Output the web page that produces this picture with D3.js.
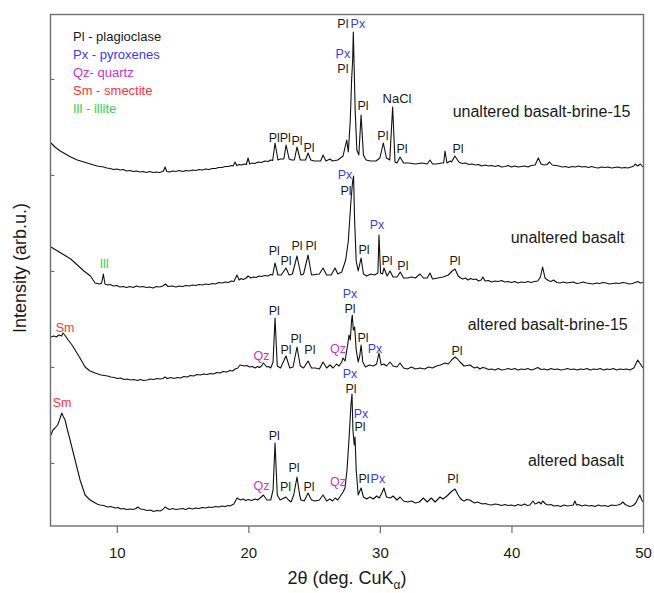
<!DOCTYPE html>
<html>
<head>
<meta charset="utf-8">
<script src="https://cdn.jsdelivr.net/npm/d3@7"></script>
<style>
  html, body { margin: 0; padding: 0; background: #fff; }
  svg { display: block; font-family: Arial, "Liberation Sans", sans-serif; }
</style>
</head>
<body>
<svg id="chart" width="654" height="593"></svg>
<script>
// ---------------- DATA ----------------
const seriesNames = ["unaltered basalt-brine-15", "unaltered basalt", "altered basalt-brine-15", "altered basalt"];
const seriesOffsets = [350, 245, 150, 0];

const unalteredBrine = [
  [5.0,33],[5.3,29],[5.7,25],[6.1,22],[6.5,19],[7.0,16],[7.5,14],[8.0,12],[8.5,10],
  [9.0,9],[9.25,8],[9.5,7.5],[9.75,6.5],[10.0,7],[10.25,6],[10.5,6.5],[10.75,5],[11.0,5.5],[11.25,4.5],[11.5,5],[11.75,4],[12.0,4.5],[12.25,3.5],[12.5,4.5],[12.75,3.5],[13.0,4],[13.25,3.5],[13.5,4.5],[13.55,5],[13.67,9],[13.8,4.5],[14.0,4],[14.25,5],[14.5,4.5],[14.75,5.5],[15.0,4.5],[15.25,5.5],[15.5,5],[15.75,6],[16.0,5.5],[16.25,6.5],[16.5,6],[16.75,7],[17.0,6.5],[17.25,7.5],[17.5,7.5],[17.75,8.5],[18.0,8.5],[18.25,9.5],[18.5,9.5],[18.7,10.5],[18.85,10],[18.99,14],[19.12,10.5],[19.3,11.5],[19.5,11],[19.7,12],[19.85,11.5],[19.98,18],[20.1,12],[20.3,13],[20.5,12.5],[20.75,14],[21.0,13.5],[21.25,15],[21.5,14.5],[21.7,16],[21.85,15.5],
  [22.03,33],[22.25,16],[22.45,17],[22.7,17],[22.87,31],[23.1,17],[23.3,16],[23.5,16],[23.7,29],[23.95,16],[24.2,16],[24.35,16],[24.54,23],[24.75,16],[25.0,15],[25.3,15],[25.5,15],[25.68,21],[25.9,15],[26.2,17],[26.4,15],[26.8,16],[27.2,20],[27.48,36],[27.6,24],[27.75,56],[27.85,96],[27.93,116],[27.98,144],[28.05,106],[28.12,66],[28.25,26],[28.4,21],[28.57,61],[28.75,21],[28.95,16],[29.3,15],[29.7,15],[30.0,18],[30.26,33],[30.5,18],[30.75,16],[30.97,69],[31.15,14],[31.3,13],[31.53,19],[31.8,13],[32.2,13],[32.7,12],[33.2,13],[33.6,12],[33.81,16],[34.0,12],[34.3,12],[34.7,13],[34.85,13],[34.95,25],[35.1,13],[35.35,15],[35.45,14],[35.7,20],
  [36.0,14],[36.25,12.5],[36.5,13],[36.75,11.5],[37.0,12],[37.25,11],[37.5,11.5],[37.75,10],[38.0,11],[38.25,10],[38.5,10.5],[38.75,9.5],[39.0,10.5],[39.25,9],[39.5,9.5],[39.75,10.5],[40.0,9],[40.25,10],[40.5,9],[40.75,9.5],[41.0,10],[41.25,9],[41.5,10.5],[41.8,11],[42.04,18],[42.25,12],[42.5,11],[42.7,11.5],[42.9,14],[43.1,11],[43.35,10.5],[43.6,10],[43.85,9],[44.1,9.5],[44.35,8.5],[44.6,9.5],[44.85,9],[45.1,10],[45.35,9],[45.6,9.5],[45.85,8.5],[46.1,9.5],[46.35,8.5],[46.6,8],[46.85,9],[47.1,8.5],[47.35,9],[47.6,8],[47.85,8.5],[48.1,9],[48.35,8],[48.6,8.5],[48.85,8],[49.1,9],[49.3,10],[49.4,12],[49.6,10],[49.8,12],[50.0,9]
];

const unaltered = [
  [5.0,34],[5.5,30],[6.0,26],[6.5,22],[7.0,16],[7.5,10],[8.0,5],[8.35,-2],[8.7,-3],[8.85,-2],[8.98,7],
  [9.1,-3],[9.3,-4],[9.5,-3.5],[9.75,-5],[10.0,-4.5],[10.25,-6],[10.5,-5.5],[10.75,-6.5],[11.0,-5.5],[11.25,-6.5],[11.5,-5],[11.75,-6],[12.0,-5.5],[12.25,-6.5],[12.5,-6],[12.75,-7],[13.0,-5.5],[13.25,-6],[13.5,-5],[13.7,-3],[13.9,-5.5],[14.2,-5],[14.5,-6],[14.75,-5],[15.0,-5.5],[15.25,-4.5],[15.5,-5],[15.75,-4],[16.0,-4.5],[16.25,-3.5],[16.5,-4],[16.75,-3],[17.0,-3.5],[17.25,-2.5],[17.5,-3],[17.75,-1.5],[18.0,-2],[18.25,-1],[18.5,-1.5],[18.7,0],[18.9,-0.5],[19.14,6],[19.3,1],[19.45,2.5],[19.6,1.5],[19.8,2.5],[19.98,5],[20.2,3],[20.4,4],[20.6,3.5],[20.8,5],[21.0,4.5],[21.25,5.5],[21.5,5],[21.7,6.5],[21.85,6],
  [22.03,18],[22.25,6],[22.5,6],[22.86,13],[23.1,6],[23.35,7],[23.7,25],[24.0,6],[24.2,7],[24.54,26],[24.8,6],[25.1,6.5],[25.4,7],[25.68,13],[25.95,6],[26.3,6],[26.59,13],[26.8,7],[27.1,9],[27.4,21],[27.6,40],[27.8,80],[27.93,100],[28.0,105],[28.08,60],[28.2,20],[28.35,10],[28.57,23],[28.75,7],[29.0,5],[29.3,7],[29.6,6],[29.85,8],[29.93,46],[30.05,8],[30.2,7],[30.31,13],[30.55,5],[30.77,10],[31.0,4],[31.3,4],[31.55,9],[31.8,3],[32.1,3],[32.4,4],[32.7,3],[33.05,7],[33.3,3],[33.6,3],[33.81,8],[34.0,2],[34.4,3],[34.8,4],[35.2,6],[35.5,10],[35.71,12],
  [35.95,5],[36.15,3],[36.3,2],[36.5,3],[36.7,1],[36.9,2.5],[37.1,1.5],[37.3,2],[37.5,0],[37.7,1],[37.83,4],[38.0,0],[38.25,0.5],[38.5,-1],[38.75,0],[39.0,-0.5],[39.25,0.5],[39.5,-1],[39.75,-0.5],[40.0,-1.5],[40.25,-0.5],[40.5,-2],[40.75,-1],[41.0,-1.5],[41.25,-0.5],[41.5,-1.5],[41.75,-0.5],[42.0,0],[42.2,4],[42.37,14],[42.55,3],[42.8,0.5],[43.0,-0.5],[43.2,1],[43.45,-1.5],[43.7,-2],[43.95,-1],[44.2,-2],[44.45,-1.5],[44.7,-1],[44.95,-2.5],[45.2,-2],[45.45,-1],[45.7,-2],[45.95,-2.5],[46.2,-3],[46.45,-2],[46.7,-2.5],[46.95,-1.5],[47.2,-2],[47.45,-3],[47.7,-2.5],[47.95,-2],[48.2,-2.5],[48.45,-1.5],[48.7,-2],[48.95,-3],[49.2,-2.5],[49.4,-1.5],[49.6,-0.5],[49.8,-2],[50.0,-1.5]
];

const alteredBrine = [
  [5.0,39],[5.2,40],[5.4,39],[5.6,41],[5.8,40],[5.92,43],[6.1,40],[6.3,36],[6.6,31],[6.83,26],[7.2,18],[7.59,9],[7.97,5],[8.35,3],
  [8.8,1],[9.05,0.5],[9.3,0],[9.55,-1],[9.8,-1.5],[10.05,-2.5],[10.3,-2],[10.55,-3.5],[10.8,-3],[11.05,-4],[11.3,-3.5],[11.55,-4.5],[11.8,-3.5],[12.05,-4.5],[12.3,-4],[12.55,-3],[12.8,-3.5],[13.05,-2.5],[13.3,-3],[13.5,-2.5],[13.67,-1],[13.85,-2.5],[14.1,-1.5],[14.35,-2.5],[14.6,-1.5],[14.85,-2],[15.1,-0.5],[15.35,-1],[15.6,0.5],[15.85,0],[16.1,1.5],[16.35,1],[16.6,2],[16.85,1.5],[17.1,2.5],[17.35,2],[17.6,3.5],[17.85,3],[18.1,4.5],[18.35,4],[18.6,5.5],[18.8,5],[19.0,7],[19.2,8],[19.37,11],[19.55,10.5],[19.7,10],[19.9,10.5],[20.1,9],[20.3,9.5],[20.51,8],[20.7,9.5],[20.85,8.5],[21.0,10],[21.15,13],[21.4,9],[21.55,9.5],[21.7,8],
  [21.88,14],[22.03,58],[22.2,10],[22.45,8],[22.86,20],[23.15,8],[23.4,9],[23.7,29],[23.95,10],[24.2,8],[24.54,15],[24.8,8],[25.1,8],[25.4,7],[25.68,14],[25.95,8],[26.2,11],[26.45,8],[26.7,12],[26.9,10],[27.1,14],[27.2,18],[27.35,15],[27.55,31],[27.65,41],[27.75,36],[27.85,56],[27.9,61],[27.98,46],[28.08,49],[28.2,26],[28.35,14],[28.48,21],[28.57,31],[28.7,14],[28.9,9],[29.2,11],[29.5,10],[29.75,12],[29.93,23],[30.1,11],[30.3,12],[30.5,10],[30.77,14],[31.0,10],[31.3,9],[31.53,13],[31.8,8],[32.1,7],[32.4,9],[32.7,7],[33.05,8],[33.4,7],[33.7,9],[34.0,8],[34.3,10],[34.6,11],[34.95,13],[35.2,12],[35.45,16],[35.71,19],[35.9,17],[36.09,14],[36.4,10],
  [36.85,11],[37.0,9.5],[37.2,8],[37.4,9],[37.6,7],[37.8,8.5],[38.0,8],[38.25,6.5],[38.5,7],[38.75,6],[39.0,7.5],[39.25,6],[39.5,6.5],[39.75,7.5],[40.0,6.5],[40.25,7.5],[40.5,6],[40.75,7],[41.0,6.5],[41.25,7.5],[41.5,6],[41.75,7],[42.0,8.5],[42.25,6.5],[42.5,7],[42.75,6],[43.0,7.5],[43.25,6.5],[43.5,7],[43.75,6],[44.0,6.5],[44.25,7.5],[44.5,6.5],[44.75,7],[45.0,6],[45.25,7],[45.5,6.5],[45.75,7.5],[46.0,6],[46.25,7],[46.5,6.5],[46.75,7.5],[47.0,6],[47.25,7],[47.5,6.5],[47.75,7.5],[48.0,6],[48.25,7],[48.5,6.5],[48.75,7],[49.0,6],[49.3,8],[49.6,16],[49.8,12],[50.0,8]
];

const altered = [
  [5.0,91],[5.15,96],[5.31,98],[5.5,101],[5.65,106],[5.82,113],[5.95,109],[6.07,106],[6.25,96],[6.45,86],[6.83,66],[7.21,46],[7.59,31],[7.97,26],
  [8.5,22],[8.73,21],[9.0,20.5],[9.3,19],[9.55,19.5],[9.87,18],[10.1,18.5],[10.3,17],[10.5,17.5],[10.75,16.5],[11.0,17],[11.25,16.5],[11.45,17.5],[11.6,19],[11.8,17],[12.05,16.5],[12.3,15.5],[12.55,16],[12.8,14.5],[13.05,15.5],[13.3,15],[13.5,16.5],[13.67,19],[13.85,17.5],[14.0,16.5],[14.25,17.5],[14.5,16.5],[14.75,17],[15.0,17.5],[15.25,16.5],[15.5,18],[15.75,17],[16.0,18],[16.25,17.5],[16.5,18.5],[16.75,18],[17.0,19],[17.25,18.5],[17.5,19.5],[17.75,19],[18.0,20],[18.25,19.5],[18.45,20.5],[18.6,20],[18.9,22],[19.14,28],[19.4,26],[19.6,27],[19.8,25.5],[20.0,26.5],[20.25,25.5],[20.5,27],[20.7,26],[20.9,28],
  [21.15,31],[21.4,26],[21.7,26],[21.88,36],[22.03,83],[22.2,31],[22.41,26],[22.86,29],[23.05,26],[23.25,24],[23.45,31],[23.7,49],[23.9,31],[24.0,26],[24.25,25],[24.54,33],[24.8,26],[25.07,25],[25.4,26],[25.68,31],[25.95,25],[26.2,27],[26.4,25],[26.6,28],[26.8,26],[27.0,30],[27.2,34],[27.35,38],[27.5,56],[27.65,86],[27.8,121],[27.88,132],[27.95,96],[28.05,81],[28.11,89],[28.2,56],[28.35,31],[28.57,38],[28.75,29],[29.0,27],[29.25,29],[29.5,27],[29.75,30],[29.95,28],[30.15,33],[30.31,38],[30.5,29],[30.8,28],[31.0,30],[31.3,26],[31.53,29],[31.8,25],[32.1,24],[32.4,25],[32.7,23],[33.0,24],[33.3,28],[33.6,24],[33.9,28],[34.2,24],[34.57,29],[34.8,27],[35.1,30],[35.4,34],[35.71,37],[35.95,31],
  [36.09,28],[36.25,26],[36.4,25],[36.6,26.5],[36.85,26],[37.0,24.5],[37.2,23],[37.4,24],[37.6,23],[37.8,22],[38.0,22.5],[38.25,21.5],[38.5,21],[38.75,22],[39.0,21.5],[39.25,20.5],[39.5,21.5],[39.75,20.5],[40.0,21],[40.25,20],[40.5,21.5],[40.75,20.5],[41.0,22],[41.2,20.5],[41.4,21],[41.63,25],[41.8,22],[41.9,22.5],[42.1,24],[42.25,22],[42.37,25],[42.6,22],[42.8,21],[43.0,21.5],[43.25,20],[43.5,20.5],[43.75,19.5],[44.0,21],[44.25,20],[44.5,20.5],[44.7,21],[44.82,25],[44.95,21],[45.1,21.5],[45.35,20],[45.6,21],[45.85,20],[46.1,20.5],[46.35,19.5],[46.6,21],[46.85,20],[47.1,20.5],[47.35,19.5],[47.6,21],[47.85,20.5],[48.1,21],[48.3,22],[48.47,24],[48.65,21.5],[48.8,20.5],[49.0,19.5],[49.15,20],[49.3,21],[49.45,23],[49.6,27],[49.76,31],[49.9,26],[50.0,24]
];

const seriesData = [unalteredBrine, unaltered, alteredBrine, altered];

const xTickValues = [10, 20, 30, 40, 50];
const yTickValues = [63, 159, 255, 351, 447];

const phaseColors = { Pl: "#1a1a1a", Px: "#3a3aff", Qz: "#cc33cc", Sm: "#ff3333", Ill: "#3fcc3f", NaCl: "#1a1a1a" };
const legendItems = [
  ["Pl", "Pl - plagioclase"],
  ["Px", "Px - pyroxenes"],
  ["Qz", "Qz- quartz"],
  ["Sm", "Sm - smectite"],
  ["Ill", "Ill - illite"]
];

// peak annotations: [label, phase, 2θ, intensity level]
const peakLabels = [
  ["Pl","Pl",21.97,384],["Pl","Pl",22.81,384],["Pl","Pl",23.7,381],["Pl","Pl",24.61,374],
  ["Pl","Pl",27.19,498],["Px","Px",28.33,498],["Px","Px",27.19,468],["Pl","Pl",27.19,453],
  ["Pl","Pl",28.72,416],["NaCl","NaCl",31.3,423],["Pl","Pl",30.23,386],["Pl","Pl",31.68,373],["Pl","Pl",35.94,373],
  ["Ill","Ill",9.04,258],["Pl","Pl",21.97,271],["Pl","Pl",22.87,261],["Pl","Pl",23.7,276],["Pl","Pl",24.76,276],
  ["Px","Px",27.35,347],["Pl","Pl",27.42,331],["Pl","Pl",28.79,272],["Px","Px",29.78,297],["Pl","Pl",30.54,261],["Pl","Pl",31.75,256],["Pl","Pl",35.71,261],
  ["Sm","Sm",6.07,194],["Qz","Qz",21.0,166],["Pl","Pl",21.97,211],["Pl","Pl",22.87,172],["Pl","Pl",23.62,183],["Pl","Pl",24.68,172],
  ["Qz","Qz",26.82,173],["Px","Px",27.73,228],["Pl","Pl",27.73,213],["Pl","Pl",28.72,184],["Px","Px",29.63,173],["Pl","Pl",35.86,171],
  ["Sm","Sm",5.84,119],["Qz","Qz",21.0,36],["Pl","Pl",21.97,86],["Pl","Pl",22.83,35],["Pl","Pl",23.47,54],["Pl","Pl",24.61,35],
  ["Qz","Qz",26.82,40],["Px","Px",27.73,148],["Pl","Pl",27.8,133],["Px","Px",28.56,108],["Pl","Pl",28.49,95],
  ["Pl","Pl",28.79,43],["Px","Px",29.85,43],["Pl","Pl",35.55,43]
];

// series captions: [2θ start, intensity level]
const captionPositions = [[35.53,409],[39.94,283],[36.67,196],[41.25,60]];

// ---------------- CHART ----------------
const svg = d3.select("#chart");
const font = 'Arial, "Liberation Sans", sans-serif';

const x = d3.scaleLinear().domain([5, 50]).range([51, 643]);
const y = d3.scaleLinear().domain([0, 512]).range([526, 14]);

// traces
const line = d3.line().x(d => x(d[0]));
seriesData.forEach((s, i) => {
  svg.append("path")
    .datum(s)
    .attr("fill", "none")
    .attr("stroke", "#111")
    .attr("stroke-width", 1.1)
    .attr("stroke-linejoin", "round")
    .attr("d", line.y(d => y(d[1] + seriesOffsets[i])));
});

// frame
svg.append("rect")
  .attr("x", 50.5).attr("y", 14.5)
  .attr("width", 593).attr("height", 511.5)
  .attr("fill", "none").attr("stroke", "#6e6e6e").attr("stroke-width", 1.4);

// x axis
const xAxis = svg.append("g")
  .attr("transform", "translate(0,526)")
  .call(d3.axisBottom(x).tickValues(xTickValues).tickSize(7).tickPadding(14).tickFormat(d3.format("d")));
xAxis.select(".domain").remove();
xAxis.selectAll(".tick line").attr("stroke", "#6e6e6e").attr("stroke-width", 1.2);
xAxis.selectAll(".tick text").attr("font-size", 15).attr("font-family", font).attr("fill", "#1a1a1a");

// y axis (inner ticks, no labels)
const yAxis = svg.append("g")
  .attr("transform", "translate(50.5,0)")
  .call(d3.axisLeft(y).tickValues(yTickValues).tickSize(-4).tickFormat(""));
yAxis.select(".domain").remove();
yAxis.selectAll(".tick line").attr("stroke", "#6e6e6e");

// axis titles
const xt = svg.append("text")
  .attr("x", 347).attr("y", 584)
  .attr("text-anchor", "middle")
  .attr("font-size", 18).attr("font-family", font).attr("fill", "#1a1a1a");
xt.append("tspan").text("2θ (deg. CuK");
xt.append("tspan").attr("font-size", 12).attr("dy", 5).text("α");
xt.append("tspan").attr("dy", -5).text(")");

svg.append("text")
  .attr("transform", "translate(26,268) rotate(-90)")
  .attr("text-anchor", "middle")
  .attr("font-size", 18).attr("font-family", font).attr("fill", "#1a1a1a")
  .text("Intensity (arb.u.)");

// legend
svg.append("g").selectAll("text")
  .data(legendItems)
  .join("text")
  .attr("x", 73)
  .attr("y", (d, i) => 41 + i * 18)
  .attr("font-size", 13).attr("font-family", font)
  .attr("fill", d => phaseColors[d[0]])
  .text(d => d[1]);

// peak labels
svg.append("g").selectAll("text")
  .data(peakLabels)
  .join("text")
  .attr("x", d => x(d[2]))
  .attr("y", d => y(d[3]))
  .attr("text-anchor", "middle")
  .attr("font-size", d => d[0] === "NaCl" ? 13 : 12.5)
  .attr("font-family", font)
  .attr("fill", d => phaseColors[d[1]])
  .text(d => d[0]);

// series captions
svg.append("g").selectAll("text")
  .data(seriesNames)
  .join("text")
  .attr("x", (d, i) => x(captionPositions[i][0]))
  .attr("y", (d, i) => y(captionPositions[i][1]))
  .attr("font-size", 16).attr("font-family", font).attr("fill", "#1a1a1a")
  .text(d => d);
</script>
</body>
</html>
